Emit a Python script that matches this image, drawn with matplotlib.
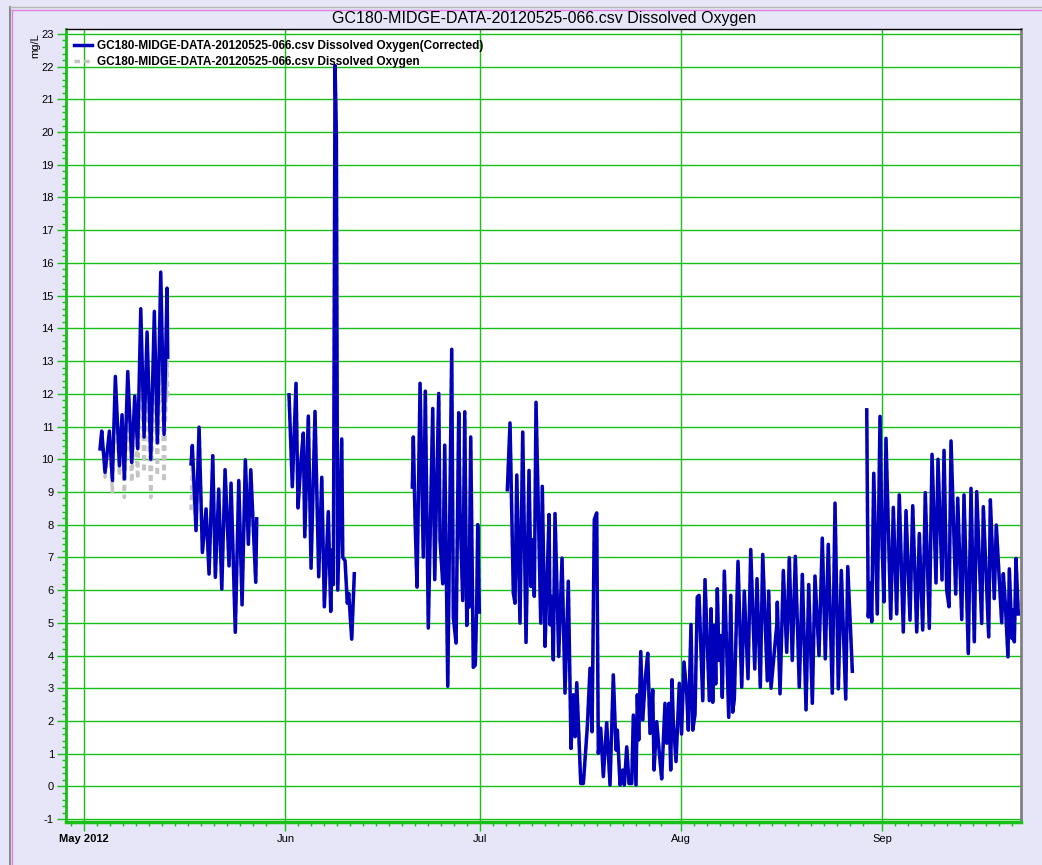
import datetime as dt
import numpy as np
import matplotlib
matplotlib.use('Agg')
import matplotlib.pyplot as plt
import matplotlib.dates as mdates
from matplotlib.ticker import MultipleLocator
from matplotlib.lines import Line2D

plt.rcParams['font.family'] = ['Liberation Sans', 'DejaVu Sans']
plt.rcParams['axes.unicode_minus'] = False

# ---------------- data ----------------
TITLE = 'GC180-MIDGE-DATA-20120525-066.csv Dissolved Oxygen'
LABEL_CORR = 'GC180-MIDGE-DATA-20120525-066.csv Dissolved Oxygen(Corrected)'
LABEL_RAW = 'GC180-MIDGE-DATA-20120525-066.csv Dissolved Oxygen'
START = dt.datetime(2012, 5, 1)

MONTH_TICKS = [dt.datetime(2012, m, 1) for m in (5, 6, 7, 8, 9)]
MONTH_LABELS = ['May 2012', 'Jun', 'Jul', 'Aug', 'Sep']

# days since 2012-05-01, dissolved oxygen in mg/L (one list per deployment)
seg1_days = [2.42, 2.68, 3.19, 3.86, 4.32, 4.78, 5.40, 5.81, 6.17, 6.69, 7.31, 7.77,
             8.23, 8.70, 9.21, 9.67, 10.24, 10.79, 11.26, 11.78, 12.29, 12.75, 12.86]
seg1_corr = [10.32, 10.86, 9.6, 10.86, 9.35, 12.53, 9.8, 11.36, 9.4, 12.68, 9.9, 11.93,
             10.32, 14.6, 10.68, 13.89, 10.0, 14.52, 10.5, 15.72, 10.76, 15.23, 13.12]
seg1_raw = [10.25, 10.75, 9.45, 10.7, 9.0, 12.2, 9.5, 11.0, 8.83, 12.1, 9.3, 11.3,
            9.4, 13.8, 9.6, 13.0, 8.83, 13.4, 9.5, 14.3, 9.3, 13.1, 11.9]

seg2_days = [16.45, 16.65, 17.22, 17.69, 18.20, 18.77, 19.23, 19.80, 20.20, 20.72, 21.19,
             21.70, 22.31, 22.62, 23.28, 23.81, 24.32, 24.83, 25.29, 25.66, 26.43, 26.58]
seg2_corr = [9.86, 10.42, 7.82, 10.98, 7.15, 8.48, 6.49, 10.11, 6.39, 9.09, 6.03,
             9.68, 6.74, 9.27, 4.71, 9.35, 5.55, 9.98, 7.4, 9.68, 6.24, 8.18]
seg2_raw = [8.45, 9.8, 7.82, 10.98, 7.15, 8.48, 6.49, 10.11, 6.39, 9.09, 6.03,
            9.68, 6.74, 9.27, 4.71, 9.35, 5.55, 9.98, 7.4, 9.68, 6.24, 8.18]

seg3_days = [31.56, 32.07, 32.64, 32.95, 33.37, 33.77, 33.99, 34.54, 34.96, 35.57, 36.14,
             36.61, 37.01, 37.62, 37.99, 38.24, 38.40, 38.66, 38.86, 39.07, 39.69, 39.85,
             40.20, 40.55, 40.77, 41.23, 41.63]
seg3_corr = [11.97, 9.16, 12.32, 8.51, 9.86, 10.8, 7.63, 11.32, 6.67, 11.46, 6.41,
             9.45, 5.49, 8.4, 5.35, 7.23, 6.17, 22.03, 19.98, 6.0, 10.62, 7.0,
             6.9, 5.6, 5.9, 4.5, 6.5]

seg4_days = [50.58, 50.73, 50.99, 51.30, 51.77, 52.27, 52.58, 53.04, 53.41, 53.72, 54.03,
             54.65, 54.85, 55.27, 55.57, 56.04, 56.28, 56.65, 56.90, 57.32, 57.73, 57.93,
             58.35, 58.66, 58.97, 59.21, 59.32, 59.58, 59.98, 60.29, 60.51, 60.66, 60.91]
seg4_corr = [9.15, 10.68, 8.23, 6.09, 12.32, 7.01, 12.08, 4.84, 8.44, 11.55, 6.32,
             12.01, 7.52, 6.19, 10.43, 3.06, 7.01, 13.36, 5.17, 4.38, 11.42, 8.44,
             5.68, 11.45, 4.92, 7.27, 5.48, 10.68, 3.64, 3.71, 5.63, 8.0, 5.33]

seg5_days = [65.23, 65.64, 66.15, 66.41, 66.68, 67.18, 67.60, 68.11, 68.57, 68.88, 69.08,
             69.39, 69.65, 70.38, 70.62, 71.04, 71.30, 71.66, 71.81, 72.07, 72.32, 72.58,
             73.15, 73.66, 74.12, 74.63, 75.05, 75.40, 75.67, 75.93, 76.55, 76.95, 77.56,
             77.98, 78.29, 78.64, 79.01, 79.26, 79.63, 80.03, 80.55, 81.06, 81.57, 81.99,
             82.19, 82.61, 83.02, 83.27, 83.64, 83.99, 84.41, 84.66, 85.07, 85.27, 85.49,
             85.80, 86.11, 86.51, 86.88, 87.23, 87.65, 87.85, 88.26, 88.67, 89.03, 89.54,
             89.81, 90.16, 90.42, 90.62, 90.82, 91.24, 91.75, 92.09, 92.47, 92.89, 93.14,
             93.55, 93.82, 94.17, 94.52, 94.79, 95.36, 95.71, 96.38, 96.64, 96.90, 97.15,
             97.36, 97.61, 97.87, 98.13, 98.38, 98.69, 99.37, 99.68, 99.98, 100.23, 100.80,
             101.37, 101.77, 102.34, 102.76, 103.38, 103.73, 104.24, 104.61, 105.32, 105.53,
             105.89, 106.77, 106.86, 107.28, 107.79, 108.31, 108.71, 109.17, 109.64, 110.25,
             110.72, 111.29, 111.70, 112.26, 112.67, 113.29, 113.80, 114.26, 114.72, 115.34,
             115.76, 116.27, 116.73, 117.41, 117.72, 118.43]
seg5_corr = [9.07, 11.11, 5.91, 5.6, 9.52, 4.99, 10.83, 4.4, 9.66, 6.11, 7.54,
             5.81, 11.74, 4.99, 9.17, 4.28, 5.91, 8.31, 4.94, 5.81, 3.87, 8.34,
             3.97, 6.98, 2.85, 6.27, 1.16, 2.8, 1.52, 3.17, 0.09, 0.09, 1.82,
             3.61, 1.67, 8.16, 8.36, 1.01, 1.78, 0.3, 1.95, 0.04, 3.41, 1.11,
             1.72, 0.04, 0.5, 0.04, 1.21, 0.09, 0.09, 2.18, 0.04, 2.8, 1.42,
             4.12, 2.03, 3.31, 4.07, 1.62, 2.95, 0.5, 1.98, 1.01, 0.23, 2.54,
             1.32, 2.54, 0.5, 3.26, 1.98, 0.76, 3.15, 1.6, 3.8, 2.83, 1.72,
             4.95, 1.72, 2.21, 5.79, 5.84, 2.62, 6.32, 2.62, 5.43, 2.57, 4.92,
             3.13, 6.04, 3.85, 4.61, 2.72, 6.58, 2.11, 5.84, 2.27, 2.67, 6.88,
             3.03, 5.97, 3.29, 7.24, 3.59, 6.35, 3.03, 7.09, 3.23, 5.97,
             3.0, 4.92, 5.63, 2.83, 6.6, 4.1, 6.99, 3.85, 7.03, 3.03,
             6.48, 2.34, 6.17, 2.54, 6.43, 4.0, 7.59, 3.9, 7.4, 2.85,
             8.66, 2.98, 6.6, 2.67, 6.72, 3.52]

seg6_days = [120.65, 120.89, 121.15, 121.42, 121.73, 122.28, 122.70, 123.01, 123.31, 123.62,
             124.35, 124.75, 125.27, 125.67, 126.29, 126.71, 127.32, 127.74, 128.36, 128.76,
             129.28, 129.68, 130.30, 130.72, 131.33, 131.64, 132.26, 132.57, 132.98, 133.34,
             133.65, 134.37, 134.68, 135.30, 135.65, 136.31, 136.73, 137.24, 137.61, 138.38,
             138.63, 139.46, 139.71, 140.32, 140.63, 141.46, 141.71, 142.02, 142.43, 142.64,
             143.05, 143.25, 143.41, 143.67, 144.02]
seg6_corr = [11.51, 5.18, 6.22, 5.03, 9.57, 5.27, 11.31, 7.43, 5.64, 10.64,
             5.13, 8.53, 5.27, 8.91, 4.72, 8.43, 5.08, 8.58, 4.72, 7.73,
             4.78, 8.98, 4.83, 10.15, 6.22, 10.0, 6.31, 10.27, 6.0, 5.49,
             10.56, 5.88, 8.81, 5.1, 8.91, 4.06, 9.11, 4.42, 9.01, 4.98,
             8.55, 4.57, 8.76, 5.74, 7.99, 5.0, 6.5, 5.59, 3.96, 6.65,
             4.52, 5.39, 4.42, 6.97, 5.27]


def join(parts):
    """concatenate deployments, NaN between them so the line breaks"""
    out = []
    for p in parts:
        out += list(p) + [np.nan]
    return np.array(out[:-1], dtype=float)


days = join([seg1_days, seg2_days, seg3_days, seg4_days, seg5_days, seg6_days])
corr = join([seg1_corr, seg2_corr, seg3_corr, seg4_corr, seg5_corr, seg6_corr])
raw = join([seg1_raw, seg2_raw, seg3_corr, seg4_corr, seg5_corr, seg6_corr])
t = mdates.date2num(START) + days

# ---------------- plot ----------------
GREEN = '#17bf17'
fig = plt.figure(figsize=(10.42, 8.65), dpi=100, facecolor='#e6e6f8')
ax = fig.add_axes([0.0631, 0.0500, 0.9165, 0.9161])
ax.set_facecolor('white')

ax.plot(t, raw, color='#c4c4c4', lw=2.5, ls=(0, (1.6, 1.2)), label=LABEL_RAW, zorder=3)
ax.plot(t, corr, color='#0000bb', lw=2.5, label=LABEL_CORR, zorder=4)

x0 = mdates.date2num(START)
ax.set_xlim(x0 - 2.87, x0 + 144.4)
ax.set_ylim(-1.08, 23.14)

ax.set_yticks(range(-1, 24))
ax.yaxis.set_minor_locator(MultipleLocator(0.2))
ax.set_xticks(MONTH_TICKS, MONTH_LABELS)
ax.xaxis.set_minor_locator(mdates.DayLocator(bymonthday=range(1, 30, 2)))
ax.get_xticklabels()[0].set_fontweight('bold')

ax.grid(which='major', color=GREEN, lw=1.0, zorder=1)
ax.set_axisbelow(True)
ax.tick_params(which='major', color=GREEN, length=6.5, width=1, labelsize=8, pad=2)
ax.tick_params(which='minor', color=GREEN, length=3, width=1)

ax.spines['left'].set_color(GREEN)
ax.spines['left'].set_linewidth(2)
ax.spines['bottom'].set_color(GREEN)
ax.spines['bottom'].set_linewidth(2.5)
ax.spines['top'].set_color('black')
ax.spines['top'].set_linewidth(1)
ax.spines['right'].set_color('#808080')
ax.spines['right'].set_linewidth(2)

leg = ax.legend(handles=ax.get_lines()[::-1], loc='upper left', frameon=False,
                bbox_to_anchor=(0.0013, 0.9953),
                prop={'weight': 'bold', 'size': 8.5}, handlelength=1.55,
                labelspacing=0.33, borderaxespad=0.2, handletextpad=0.35)

fig.text(544 / 1042, 1 - 19 / 865, TITLE, ha='center', va='center', fontsize=11.5)
fig.text(35.5 / 1042, 1 - 33 / 865, 'mg/L', rotation=90, ha='center', va='top', fontsize=8)

# outer window frame
fig.add_artist(Line2D([9.5 / 1042, 9.5 / 1042], [0, 1 - 7.3 / 865], color='#8c8c8c', lw=1.5))
fig.add_artist(Line2D([9.5 / 1042, 1], [1 - 7.3 / 865, 1 - 7.3 / 865], color='#b8b8b8', lw=1))
fig.add_artist(Line2D([11.5 / 1042, 11.5 / 1042], [0, 1 - 10 / 865], color='#e080e0', lw=1))
fig.add_artist(Line2D([11.5 / 1042, 1], [1 - 10 / 865, 1 - 10 / 865], color='#e080e0', lw=1))

fig.savefig('out.png', dpi=100, facecolor=fig.get_facecolor())
